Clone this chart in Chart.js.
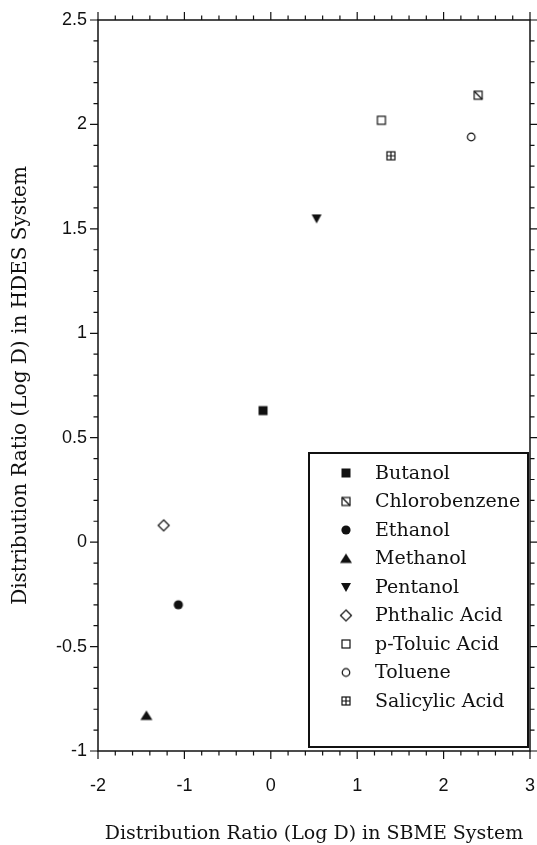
<!DOCTYPE html>
<html><head><meta charset="utf-8">
<script src="https://cdn.jsdelivr.net/npm/chart.js@4/dist/chart.umd.min.js"></script>
<style>html,body{margin:0;padding:0;background:#fff;overflow:hidden;}#wrap{width:537px;height:845px;position:relative;}#c{display:block;}</style>
</head><body><div id="wrap"><canvas id="c"></canvas></div>
<script>
const compounds = ['Butanol','Chlorobenzene','Ethanol','Methanol','Pentanol','Phthalic Acid','p-Toluic Acid','Toluene','Salicylic Acid'];
const sbmeLogD = [-0.09, 2.40, -1.07, -1.44, 0.53, -1.24, 1.28, 2.32, 1.39];
const hdesLogD = [0.63, 2.14, -0.30, -0.83, 1.55, 0.08, 2.02, 1.94, 1.85];
const markerKinds = ['squareFilled','squareSlash','circleFilled','triangleUp','triangleDown','diamondOpen','squareOpen','circleOpen','squareCross'];
const xRange = [-2, 3];
const yRange = [-1, 2.5];
const xMajorStep = 1, xMinorStep = 0.2;
const yMajorStep = 0.5, yMinorStep = 0.1;

const INK = '#111';
function makeMarker(kind){
  const s = 16, c = document.createElement('canvas');
  c.width = s; c.height = s;
  const g = c.getContext('2d');
  g.translate(s/2, s/2);
  g.strokeStyle = INK; g.fillStyle = INK; g.lineWidth = 1.2;
  g.beginPath();
  switch(kind){
    case 'squareFilled': g.fillRect(-4.5,-4.5,9,9); break;
    case 'squareOpen': g.strokeRect(-4,-4,8,8); break;
    case 'squareSlash': g.strokeRect(-4,-4,8,8); g.moveTo(-4,-4); g.lineTo(4,4); g.stroke(); break;
    case 'squareCross': g.strokeRect(-4,-4,8,8); g.moveTo(0,-4); g.lineTo(0,4); g.moveTo(-4,0); g.lineTo(4,0); g.stroke(); break;
    case 'circleFilled': g.arc(0,0,4.6,0,Math.PI*2); g.fill(); break;
    case 'circleOpen': g.arc(0,0,3.8,0,Math.PI*2); g.stroke(); break;
    case 'triangleUp': g.moveTo(0,-5); g.lineTo(6,4.5); g.lineTo(-6,4.5); g.closePath(); g.fill(); break;
    case 'triangleDown': g.moveTo(-5,-4); g.lineTo(5,-4); g.lineTo(0,5); g.closePath(); g.fill(); break;
    case 'diamondOpen': g.moveTo(0,-5.5); g.lineTo(5.5,0); g.lineTo(0,5.5); g.lineTo(-5.5,0); g.closePath(); g.stroke(); break;
  }
  return c;
}

const datasets = compounds.map((name, i) => ({
  label: name,
  data: [{x: sbmeLogD[i], y: hdesLogD[i]}],
  pointStyle: makeMarker(markerKinds[i]),
  pointRadius: 6,
  showLine: false
}));

const framePlugin = {
  id: 'frameTicks',
  afterDraw(chart){
    const {ctx, chartArea: a, scales} = chart;
    const xs = scales.x, ys = scales.y;
    ctx.save();
    ctx.strokeStyle = INK;
    ctx.lineWidth = 1.5;
    ctx.strokeRect(a.left, a.top, a.right - a.left, a.bottom - a.top);
    ctx.lineWidth = 1.2;
    ctx.beginPath();
    const nx = Math.round((xRange[1]-xRange[0])/xMinorStep);
    for (let k = 0; k <= nx; k++){
      const v = xRange[0] + k*xMinorStep;
      const major = Math.abs(v/xMajorStep - Math.round(v/xMajorStep)) < 1e-6;
      const len = major ? 8 : 4.5;
      const px = xs.getPixelForValue(v);
      ctx.moveTo(px, a.bottom); ctx.lineTo(px, a.bottom + len);
      ctx.moveTo(px, a.top); ctx.lineTo(px, a.top - len);
    }
    const ny = Math.round((yRange[1]-yRange[0])/yMinorStep);
    for (let k = 0; k <= ny; k++){
      const v = yRange[0] + k*yMinorStep;
      const major = Math.abs(v/yMajorStep - Math.round(v/yMajorStep)) < 1e-6;
      const len = major ? 8 : 4.5;
      const py = ys.getPixelForValue(v);
      ctx.moveTo(a.left, py); ctx.lineTo(a.left - len, py);
      ctx.moveTo(a.right, py); ctx.lineTo(a.right + len, py);
    }
    ctx.stroke();

    // legend box
    const bx = a.left + 211, by = a.top + 433, bw = a.right - 2 - bx, bh = a.bottom - 4 - by;
    ctx.fillStyle = '#fff';
    ctx.fillRect(bx, by, bw, bh);
    ctx.lineWidth = 2;
    ctx.strokeRect(bx, by, bw, bh);
    ctx.font = '19px "DejaVu Serif"';
    ctx.fillStyle = INK;
    ctx.textBaseline = 'middle';
    ctx.textAlign = 'left';
    chart.data.datasets.forEach((ds, i) => {
      const cy = by + 20 + i*28.5;
      const img = ds.pointStyle;
      ctx.drawImage(img, bx + 37 - img.width/2, cy - img.height/2);
      ctx.fillText(ds.label, bx + 66, cy + 1);
    });
    ctx.restore();
  }
};

const fmt = v => String(Number(v.toFixed(2)));

new Chart(document.getElementById('c'), {
  type: 'scatter',
  data: {datasets},
  options: {
    responsive: true,
    maintainAspectRatio: false,
    animation: false,
    events: [],
    layout: {padding: {top: 20, right: 5, left: 0, bottom: 0}},
    plugins: {legend: {display: false}, tooltip: {enabled: false}},
    scales: {
      x: {
        type: 'linear', min: xRange[0], max: xRange[1],
        grid: {display: false, drawTicks: true, tickLength: 24},
        border: {display: false},
        ticks: {stepSize: xMajorStep, padding: 0, color: INK, callback: fmt, maxRotation: 0,
                font: {family: '"Liberation Sans", Arial', size: 18}},
        title: {display: true, text: 'Distribution Ratio (Log D) in SBME System', color: INK,
                font: {family: '"DejaVu Serif"', size: 19}, padding: {top: 0, bottom: 0}},
        afterFit(s){ s.height = 94; }
      },
      y: {
        type: 'linear', min: yRange[0], max: yRange[1],
        grid: {display: false, drawTicks: true, tickLength: 11},
        border: {display: false},
        ticks: {stepSize: yMajorStep, padding: 0, color: INK, callback: fmt,
                font: {family: '"Liberation Sans", Arial', size: 18}},
        title: {display: true, text: 'Distribution Ratio (Log D) in HDES System', color: INK,
                font: {family: '"DejaVu Serif"', size: 20}, padding: {top: 9, bottom: 0}},
        afterFit(s){ s.width = 98; }
      }
    }
  },
  plugins: [framePlugin]
});
</script></body></html>
